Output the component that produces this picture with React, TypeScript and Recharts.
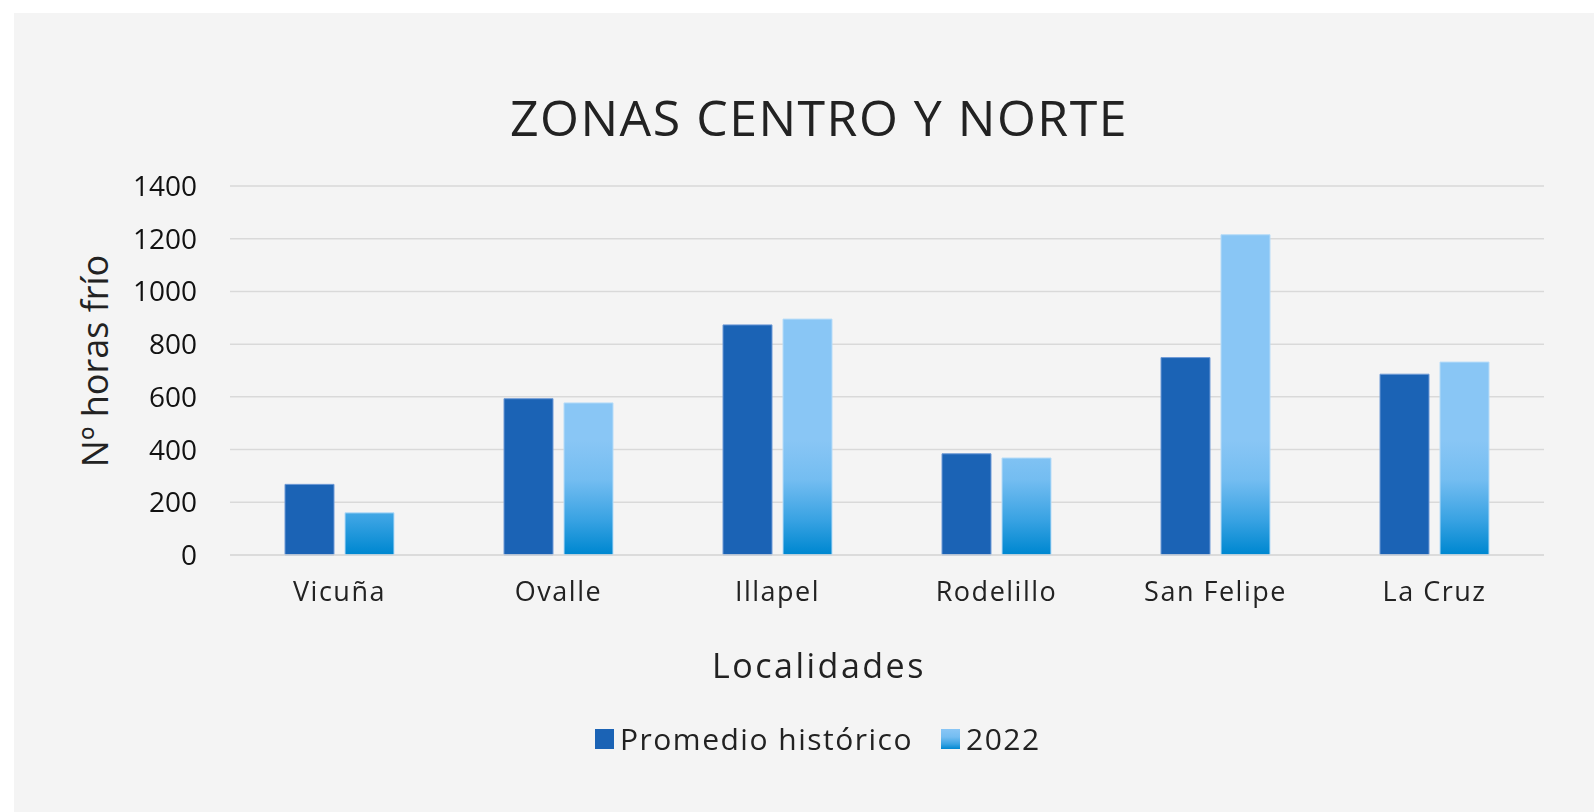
import { BarChart, Bar, XAxis, YAxis, CartesianGrid } from 'recharts'

const localidades = ['Vicuña', 'Ovalle', 'Illapel', 'Rodelillo', 'San Felipe', 'La Cruz']
const promedioHistorico = [268, 593, 873, 384, 749, 686]
const valores2022 = [160, 577, 895, 368, 1215, 732]
const yTicks = [0, 200, 400, 600, 800, 1000, 1200, 1400]
const seriesNames = ['Promedio histórico', '2022']

const data = localidades.map((name, i) => ({
  name,
  hist: promedioHistorico[i],
  y2022: valores2022[i],
}))

const textFont = '"Open Sans", sans-serif'
const darkBlue = '#1b63b5'

export default function App() {
  return (
    <div style={{ position: 'fixed', left: 0, top: 0, width: 1594, height: 812, background: '#fff' }}>
      {/* chart panel */}
      <div style={{ position: 'absolute', left: 14, top: 13, right: 0, bottom: 0, background: '#f4f4f4' }} />

      <div
        style={{
          position: 'absolute', left: 0, top: 92, width: 1638, textAlign: 'center',
          fontFamily: textFont, fontSize: 50, letterSpacing: 1.5, color: '#222', lineHeight: '50px',
        }}
      >
        ZONAS CENTRO Y NORTE
      </div>

      <div
        style={{
          position: 'absolute', left: 95, top: 361, transform: 'translate(-50%, -50%) rotate(-90deg)',
          whiteSpace: 'nowrap', fontFamily: textFont, fontSize: 36, color: '#222', lineHeight: '36px',
        }}
      >
        Nº horas frío
      </div>

      <div
        style={{
          position: 'absolute', left: 0, top: 645, width: 1638, textAlign: 'center',
          fontFamily: textFont, fontSize: 34, letterSpacing: 2.5, color: '#222', lineHeight: '40px',
        }}
      >
        Localidades
      </div>

      <div style={{ position: 'absolute', left: 0, top: 0 }}>
        <BarChart
          width={1594}
          height={812}
          data={data}
          margin={{ top: 186, right: 50, bottom: 227, left: 0 }}
          barSize={49}
          barGap={11}
        >
          <defs>
            <linearGradient id="grad2022" gradientUnits="userSpaceOnUse" x1="0" y1="440" x2="0" y2="553">
              <stop offset="0" stopColor="#89c6f5" />
              <stop offset="0.35" stopColor="#74bdf1" />
              <stop offset="0.7" stopColor="#3aa3e3" />
              <stop offset="1" stopColor="#0088d1" />
            </linearGradient>
          </defs>
          <CartesianGrid vertical={false} stroke="#d9d9d9" strokeWidth={1.5} />
          <XAxis
            dataKey="name"
            height={30}
            axisLine={{ stroke: '#d9d9d9', strokeWidth: 1.5 }}
            tickLine={false}
            tickSize={0}
            tickMargin={27}
            tick={{ fill: '#222', fontSize: 27, fontFamily: textFont, letterSpacing: 1.5 }}
          />
          <YAxis
            width={230}
            domain={[0, 1400]}
            ticks={yTicks}
            axisLine={false}
            tickLine={false}
            tickSize={0}
            tickMargin={33}
            tick={{ fill: '#111', fontSize: 28, fontFamily: textFont }}
          />
          <Bar dataKey="hist" name={seriesNames[0]} fill={darkBlue} stroke="#6f9ad6" strokeWidth={1} isAnimationActive={false} />
          <Bar dataKey="y2022" name={seriesNames[1]} fill="url(#grad2022)" stroke="#b7dcf8" strokeWidth={1} isAnimationActive={false} />
        </BarChart>
      </div>

      {/* legend */}
      <div
        style={{
          position: 'absolute', left: 595, top: 721, display: 'flex', alignItems: 'center',
          fontFamily: textFont, fontSize: 30, letterSpacing: 1.5, color: '#222', lineHeight: '36px',
        }}
      >
        <span style={{ width: 19, height: 20, background: darkBlue, display: 'inline-block', marginRight: 6 }} />
        <span style={{ marginRight: 28 }}>{seriesNames[0]}</span>
        <span
          style={{
            width: 19, height: 20, display: 'inline-block', marginRight: 6,
            background: 'linear-gradient(#89c6f5 0%, #74bdf1 40%, #3aa3e3 75%, #0088d1 100%)',
          }}
        />
        <span>{seriesNames[1]}</span>
      </div>
    </div>
  )
}
